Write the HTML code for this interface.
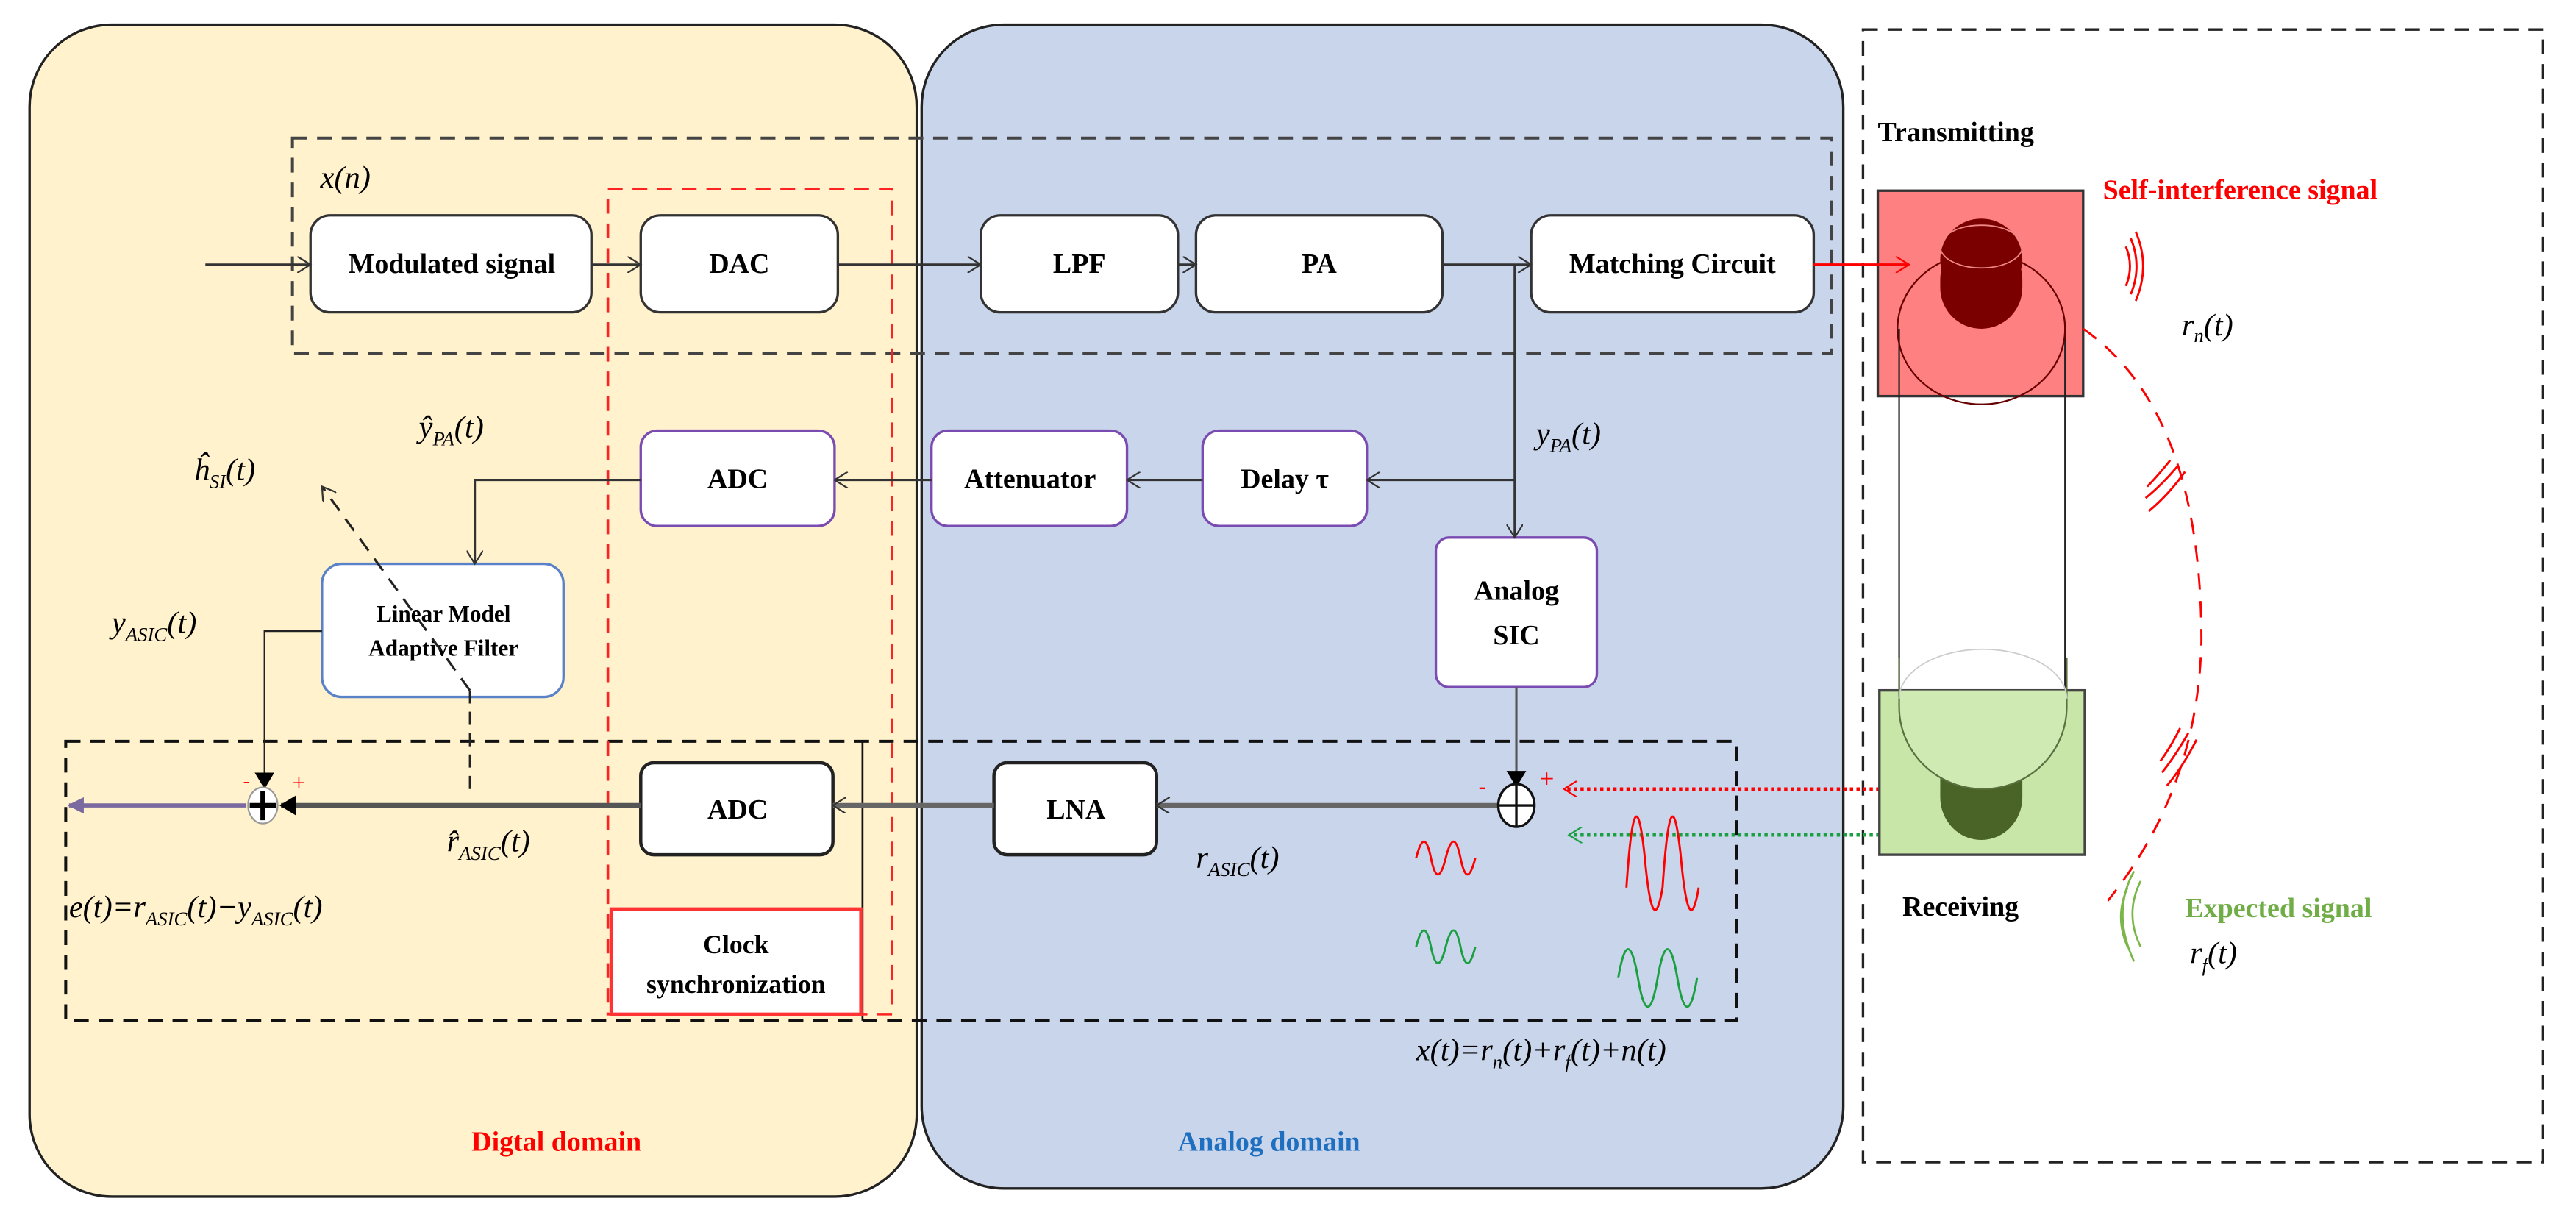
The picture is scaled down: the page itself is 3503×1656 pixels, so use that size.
<!DOCTYPE html>
<html><head><meta charset="utf-8"><style>
html,body{margin:0;padding:0;background:#fff;}
svg{display:block;}
text{font-family:"Liberation Serif",serif;}
.b{font-weight:bold;font-size:17px;}
.m{font-style:italic;font-size:19px;}
.s{font-style:italic;font-size:12px;}
</style></head><body>
<svg width="3503" height="1656" viewBox="0 0 1568 741" preserveAspectRatio="none" xmlns="http://www.w3.org/2000/svg">
<defs>
<marker id="a" markerWidth="10" markerHeight="10" refX="9" refY="5" orient="auto" markerUnits="userSpaceOnUse"><path d="M1,0 L9,5 L1,10" fill="none" stroke="#333" stroke-width="1"/></marker>
<marker id="af" markerWidth="10" markerHeight="12" refX="9" refY="6" orient="auto" markerUnits="userSpaceOnUse"><path d="M0,0 L10,6 L0,12 z" fill="#000"/></marker>
<marker id="ar" markerWidth="10" markerHeight="10" refX="9" refY="5" orient="auto" markerUnits="userSpaceOnUse"><path d="M1,0 L9,5 L1,10" fill="none" stroke="red" stroke-width="1"/></marker>
<marker id="ag" markerWidth="10" markerHeight="10" refX="9" refY="5" orient="auto" markerUnits="userSpaceOnUse"><path d="M1,0 L9,5 L1,10" fill="none" stroke="#1aa040" stroke-width="1"/></marker>
<marker id="ap" markerWidth="10" markerHeight="10" refX="9" refY="5" orient="auto" markerUnits="userSpaceOnUse"><path d="M0,0 L10,5 L0,10 z" fill="#7a6aa0"/></marker>
<clipPath id="gc"><rect x="1144" y="420" width="125" height="100"/></clipPath>
</defs>
<rect x="18" y="15" width="540" height="713" rx="50" fill="#FFF2CC" stroke="#222" stroke-width="1.5"/>
<rect x="561" y="15" width="561" height="708" rx="50" fill="#C9D5EB" stroke="#222" stroke-width="1.5"/>
<rect x="1134" y="18" width="414" height="689" fill="none" stroke="#222" stroke-width="1.5" stroke-dasharray="9,6"/>
<rect x="178" y="84" width="937" height="131" fill="none" stroke="#444" stroke-width="1.8" stroke-dasharray="9,6"/>
<rect x="40" y="451" width="1017" height="170" fill="none" stroke="#111" stroke-width="1.8" stroke-dasharray="9,6"/>
<line x1="525" y1="451" x2="525" y2="621" stroke="#111" stroke-width="1.2"/>
<rect x="370" y="115" width="173" height="502" fill="none" stroke="#f22" stroke-width="1.6" stroke-dasharray="9,6"/>
<g stroke-width="1.5" fill="#fff">
<rect x="189" y="131" width="171" height="59" rx="12" stroke="#333"/>
<rect x="390" y="131" width="120" height="59" rx="12" stroke="#333"/>
<rect x="597" y="131" width="120" height="59" rx="12" stroke="#333"/>
<rect x="728" y="131" width="150" height="59" rx="12" stroke="#333"/>
<rect x="932" y="131" width="172" height="59" rx="12" stroke="#333"/>
<rect x="390" y="262" width="118" height="58" rx="10" stroke="#7a4bb0"/>
<rect x="567" y="262" width="119" height="58" rx="10" stroke="#7a4bb0"/>
<rect x="732" y="262" width="100" height="58" rx="10" stroke="#7a4bb0"/>
<rect x="874" y="327" width="98" height="91" rx="8" stroke="#7a4bb0"/>
<rect x="196" y="343" width="147" height="81" rx="12" stroke="#5a82c8"/>
<rect x="390" y="464" width="117" height="56" rx="8" stroke="#222" stroke-width="2"/>
<rect x="605" y="464" width="99" height="56" rx="8" stroke="#222" stroke-width="2"/>
<rect x="372" y="553" width="152" height="64" stroke="#f33" stroke-width="2"/>
</g>
<g class="b" text-anchor="middle">
<text x="275" y="166">Modulated signal</text>
<text x="450" y="166">DAC</text>
<text x="657" y="166">LPF</text>
<text x="803" y="166">PA</text>
<text x="1018" y="166">Matching Circuit</text>
<text x="449" y="297">ADC</text>
<text x="627" y="297">Attenuator</text>
<text x="782" y="297">Delay  τ</text>
<text x="923" y="365">Analog</text>
<text x="923" y="392">SIC</text>
<text x="270" y="378" font-size="14">Linear Model</text>
<text x="270" y="399" font-size="14">Adaptive Filter</text>
<text x="449" y="498">ADC</text>
<text x="655" y="498">LNA</text>
<text x="448" y="580" font-size="16">Clock</text>
<text x="448" y="604" font-size="16">synchronization</text>
</g>
<g stroke="#333" stroke-width="1.4" fill="none">
<line x1="125" y1="161" x2="189" y2="161" marker-end="url(#a)"/>
<line x1="360" y1="161" x2="390" y2="161" marker-end="url(#a)"/>
<line x1="510" y1="161" x2="597" y2="161" marker-end="url(#a)"/>
<line x1="717" y1="161" x2="728" y2="161" marker-end="url(#a)"/>
<line x1="878" y1="161" x2="932" y2="161" marker-end="url(#a)"/>
<line x1="922" y1="161" x2="922" y2="327" marker-end="url(#a)"/>
<line x1="922" y1="292" x2="832" y2="292" marker-end="url(#a)"/>
<line x1="732" y1="292" x2="686" y2="292" marker-end="url(#a)"/>
<line x1="567" y1="292" x2="508" y2="292" marker-end="url(#a)"/>
<polyline points="390,292 289,292 289,343" marker-end="url(#a)"/>
<line x1="923" y1="418" x2="923" y2="478" stroke="#555" marker-end="url(#af)"/>
<line x1="912" y1="490" x2="704" y2="490" stroke="#666" stroke-width="3" marker-end="url(#a)"/>
<line x1="605" y1="490" x2="507" y2="490" stroke="#666" stroke-width="3" marker-end="url(#a)"/>
<line x1="390" y1="490" x2="171" y2="490" stroke="#555" stroke-width="3" marker-end="url(#af)"/>
<polyline points="196,384 161,384 161,479" stroke="#222" stroke-width="1" marker-end="url(#af)"/>
<line x1="150" y1="490" x2="42" y2="490" stroke="#7a6aa0" stroke-width="2.5" marker-end="url(#ap)"/>
<line x1="286" y1="420" x2="286" y2="484" stroke="#222" stroke-width="1.2" stroke-dasharray="8,5"/>
<line x1="286" y1="420" x2="196" y2="296" stroke="#222" stroke-width="1.4" stroke-dasharray="9,6" marker-end="url(#a)"/>
</g>
<ellipse cx="923" cy="490" rx="11" ry="13" fill="#fff" stroke="#111" stroke-width="1.5"/>
<line x1="912" y1="490" x2="934" y2="490" stroke="#111" stroke-width="1.5"/>
<line x1="923" y1="477" x2="923" y2="503" stroke="#111" stroke-width="1.5"/>
<ellipse cx="160" cy="490" rx="9" ry="11" fill="#fff" stroke="#999" stroke-width="1"/>
<line x1="152" y1="490" x2="168" y2="490" stroke="#000" stroke-width="3"/>
<line x1="160" y1="481" x2="160" y2="499" stroke="#000" stroke-width="3"/>
<text x="900" y="483" fill="red" font-size="14">-</text>
<text x="937" y="479" fill="red" font-size="16">+</text>
<text x="148" y="479" fill="red" font-size="12">-</text>
<text x="178" y="481" fill="red" font-size="14">+</text>
<line x1="1172" y1="480" x2="952" y2="480" stroke="red" stroke-width="2" stroke-dasharray="2,2" marker-end="url(#ar)"/>
<line x1="1172" y1="508" x2="955" y2="508" stroke="#1aa040" stroke-width="2" stroke-dasharray="2,2" marker-end="url(#ag)"/>
<g fill="none" stroke-width="1.3">
<path d="M862,522 q5,-20 9,0 q4,20 9,0 q5,-20 9,0 q4,20 9,0" stroke="red"/>
<path d="M862,576 q5,-20 9,0 q4,20 9,0 q5,-20 9,0 q4,20 9,0" stroke="#1aa040"/>
<path d="M990,540 q5,-75 11,-20 q5,55 11,20 q5,-75 11,-20 q5,55 11,20" stroke="red"/>
<path d="M985,595 q6,-35 12,0 q6,35 12,0 q6,-35 12,0 q6,35 12,0" stroke="#1aa040"/>
</g>
<rect x="1143" y="116" width="125" height="125" fill="#FF8080" stroke="#333" stroke-width="1.5"/>
<line x1="1156" y1="200" x2="1156" y2="420" stroke="#222" stroke-width="1"/>
<line x1="1257" y1="200" x2="1257" y2="420" stroke="#222" stroke-width="1"/>
<ellipse cx="1206" cy="200" rx="51" ry="46" fill="none" stroke="#600" stroke-width="1"/>
<rect x="1181" y="133" width="50" height="50" rx="25" fill="#7a0000"/>
<rect x="1181" y="145" width="50" height="55" rx="25" fill="#7a0000"/>
<ellipse cx="1206" cy="150" rx="25" ry="13" fill="none" stroke="#e88" stroke-width="0.8"/>
<line x1="1104" y1="161" x2="1162" y2="161" stroke="red" stroke-width="1.5" marker-end="url(#ar)"/>
<rect x="1144" y="420" width="125" height="100" fill="#C9E6A9" stroke="#444" stroke-width="1.5"/>
<path d="M1181,470 L1181,485 a25,26 0 0 0 50,0 L1231,470 z" fill="#4a6428"/>
<path d="M1156,400 L1156,430 a51,50 0 0 0 102,0 L1258,400" fill="#CFEAB2" stroke="none" clip-path="url(#gc)"/>
<path d="M1156,400 L1156,430 a51,50 0 0 0 102,0 L1258,400" fill="none" stroke="#5a7040" stroke-width="1"/>
<path d="M1156,425 a51,30 0 0 1 102,0" fill="none" stroke="#ccc" stroke-width="0.8"/>
<g fill="none" stroke="red" stroke-width="1.3">
<path d="M1268,200 Q1340,250 1340,390 Q1338,480 1283,548" stroke-dasharray="10,7"/>
<path d="M1294,150 q5,12 0,24"/><path d="M1297,145 q7,17 0,34"/><path d="M1300,141 q9,21 0,42"/>
<path d="M1321,280 q-8,10 -14,16"/><path d="M1326,283 q-10,12 -20,20"/><path d="M1330,287 q-10,14 -22,24"/>
<path d="M1327,443 q-6,12 -12,20"/><path d="M1332,446 q-8,14 -16,24"/><path d="M1337,450 q-8,16 -18,28"/>
</g>
<g fill="none" stroke="#7ab648" stroke-width="1.2">
<path d="M1299,530 q-14,25 0,55"/><path d="M1295,540 q-8,18 0,36"/><path d="M1303,536 q-10,20 0,40"/>
</g>
<text x="1143" y="86" class="b" font-size="18">Transmitting</text>
<text x="1280" y="121" class="b" fill="red" font-size="18">Self-interference signal</text>
<text x="1158" y="557" class="b" font-size="18">Receiving</text>
<text x="1330" y="558" class="b" fill="#70ad47" font-size="18">Expected signal</text>
<text x="287" y="700" class="b" fill="red" font-size="20">Digtal domain</text>
<text x="717" y="700" class="b" fill="#1f6fc0" font-size="20">Analog domain</text>
<g class="m">
<text x="195" y="114">x(n)</text>
<text x="1328" y="204">r<tspan class="s" dy="4">n</tspan><tspan dy="-4">(t)</tspan></text>
<text x="1333" y="586">r<tspan class="s" dy="5">f</tspan><tspan dy="-5">(t)</tspan></text>
<text x="935" y="270">y<tspan class="s" dy="5">PA</tspan><tspan dy="-5">(t)</tspan></text>
<text x="255" y="266">ŷ<tspan class="s" dy="5">PA</tspan><tspan dy="-5">(t)</tspan></text>
<text x="118" y="292">ĥ<tspan class="s" dy="5">SI</tspan><tspan dy="-5">(t)</tspan></text>
<text x="68" y="385">y<tspan class="s" dy="5">ASIC</tspan><tspan dy="-5">(t)</tspan></text>
<text x="272" y="518">r̂<tspan class="s" dy="5">ASIC</tspan><tspan dy="-5">(t)</tspan></text>
<text x="728" y="528">r<tspan class="s" dy="5">ASIC</tspan><tspan dy="-5">(t)</tspan></text>
<text x="42" y="558">e(t)=r<tspan class="s" dy="5">ASIC</tspan><tspan dy="-5">(t)−y</tspan><tspan class="s" dy="5">ASIC</tspan><tspan dy="-5">(t)</tspan></text>
<text x="862" y="645">x(t)=r<tspan class="s" dy="5">n</tspan><tspan dy="-5">(t)+r</tspan><tspan class="s" dy="5">f</tspan><tspan dy="-5">(t)+n(t)</tspan></text>
</g>
</svg>
</body></html>
